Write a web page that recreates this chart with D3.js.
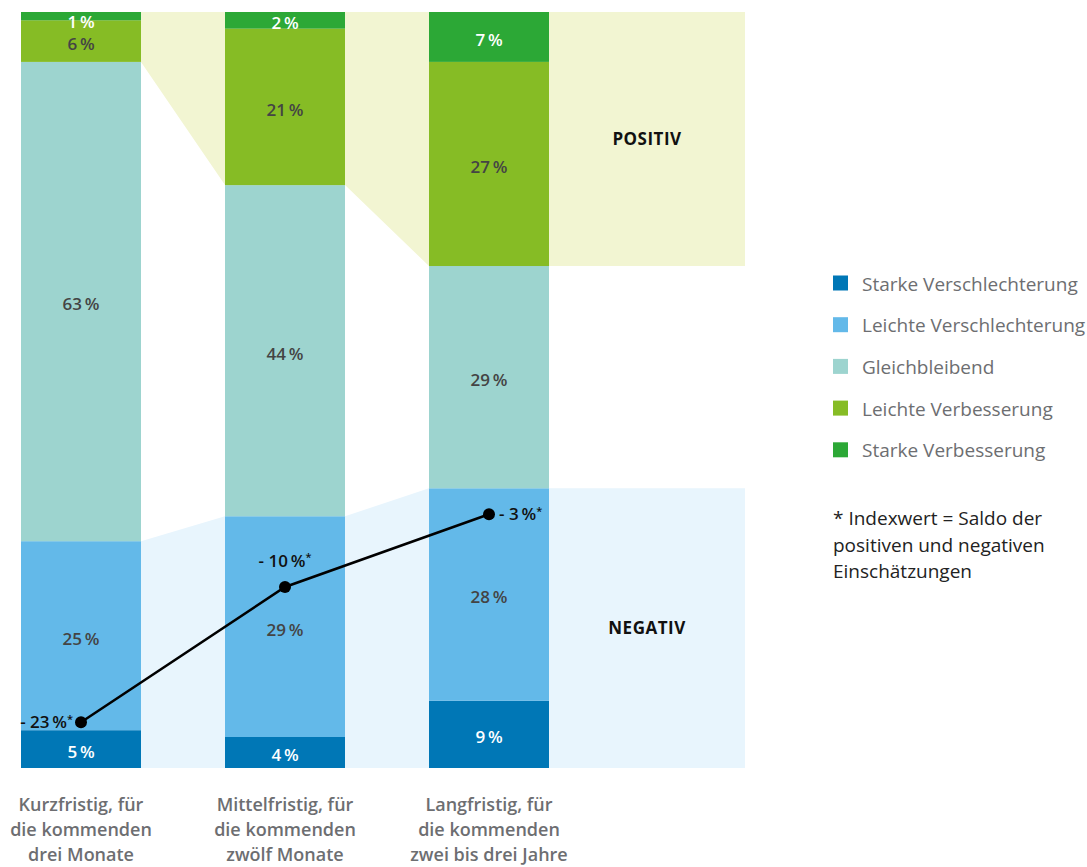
<!DOCTYPE html>
<html><head><meta charset="utf-8">
<script src="https://cdn.jsdelivr.net/npm/d3@7"></script>
<style>body{margin:0;background:#fff}svg{display:block;font-family:"Open Sans",sans-serif}</style>
</head><body><svg id="c" width="1087" height="867"></svg>
<script>
const categories = ["Kurzfristig", "Mittelfristig", "Langfristig"];
const categoryLabels = [
  ["Kurzfristig, für", "die kommenden", "drei Monate"],
  ["Mittelfristig, für", "die kommenden", "zwölf Monate"],
  ["Langfristig, für", "die kommenden", "zwei bis drei Jahre"]
];
const seriesNames = ["Starke Verschlechterung", "Leichte Verschlechterung", "Gleichbleibend", "Leichte Verbesserung", "Starke Verbesserung"];
const starkeVerschlechterung = [5.0, 4.1, 8.9];
const leichteVerschlechterung = [25.0, 29.2, 28.1];
const gleichbleibend = [63.4, 43.8, 29.4];
const leichteVerbesserung = [5.5, 20.7, 27.0];
const starkeVerbesserung = [1.1, 2.2, 6.6];
const indexValues = [-23, -10, -3];
const footnote = ["* Indexwert = Saldo der", "positiven und negativen", "Einschätzungen"];

const colors = ["#0077b6", "#63b9e9", "#9dd4cf", "#86bc25", "#2ca836"];
const labelColors = ["#ffffff", "#444444", "#444444", "#444444", "#ffffff"];
const seriesValues = [starkeVerschlechterung, leichteVerschlechterung, gleichbleibend, leichteVerbesserung, starkeVerbesserung];

const rows = categories.map((c, i) => {
  const r = {cat: c};
  seriesNames.forEach((s, j) => r[s] = seriesValues[j][i]);
  return r;
});
const stack = d3.stack().keys(seriesNames)(rows);

const svg = d3.select("#c");
const plotRight = 745;
const x = d3.scaleBand().domain(categories).range([21, 549]).paddingInner(84 / 204).paddingOuter(0);
const y = d3.scaleLinear().domain([0, 100]).range([768, 12]);
const yIdx = d3.scaleLinear().domain([-30, 0]).range([795, 483]);

// background areas
const negTop = rows.map((r, i) => stack[1][i][1]);
const posBottom = rows.map((r, i) => stack[2][i][1]);
function edgePoints(vals) {
  const pts = [];
  categories.forEach((c, i) => {
    pts.push({x: x(c), v: vals[i]});
    pts.push({x: x(c) + x.bandwidth(), v: vals[i]});
  });
  pts.push({x: plotRight, v: vals[vals.length - 1]});
  return pts;
}
svg.append("path")
  .datum(edgePoints(posBottom))
  .attr("fill", "#f2f5d2")
  .attr("d", d3.area().x(d => d.x).y0(y(100)).y1(d => y(d.v)));
svg.append("path")
  .datum(edgePoints(negTop))
  .attr("fill", "#e8f5fd")
  .attr("d", d3.area().x(d => d.x).y0(y(0)).y1(d => y(d.v)));

// bars
const g = svg.append("g");
stack.forEach((layer, j) => {
  g.selectAll(null).data(layer).enter().append("rect")
    .attr("x", (d, i) => x(categories[i]))
    .attr("width", x.bandwidth())
    .attr("y", d => y(d[1]))
    .attr("height", d => y(d[0]) - y(d[1]))
    .attr("fill", colors[j]);
});
stack.forEach((layer, j) => {
  g.selectAll(null).data(layer).enter().append("text")
    .attr("x", (d, i) => x(categories[i]) + x.bandwidth() / 2)
    .attr("y", d => Math.max((y(d[0]) + y(d[1])) / 2 + 3, y(d[1]) + 10))
    .attr("dy", "0.35em")
    .attr("text-anchor", "middle")
    .attr("font-size", 17)
    .attr("font-weight", 600)
    .attr("fill", labelColors[j])
    .text(d => Math.round(d[1] - d[0]) + "\u2009%");
});

// region labels
svg.append("text").attr("x", (x.range()[1] + plotRight) / 2).attr("y", (y(100) + y(posBottom[2])) / 2)
  .attr("dy", "0.35em").attr("text-anchor", "middle").attr("font-size", 17).attr("font-weight", 700)
  .attr("letter-spacing", 0.5).attr("fill", "#111").text("POSITIV");
svg.append("text").attr("x", (x.range()[1] + plotRight) / 2).attr("y", (y(0) + y(negTop[2])) / 2)
  .attr("dy", "0.35em").attr("text-anchor", "middle").attr("font-size", 17).attr("font-weight", 700)
  .attr("letter-spacing", 0.5).attr("fill", "#111").text("NEGATIV");

// index line
const pts = indexValues.map((v, i) => ({x: x(categories[i]) + x.bandwidth() / 2, y: yIdx(v), v}));
svg.append("path").datum(pts).attr("fill", "none").attr("stroke", "#000").attr("stroke-width", 2.5)
  .attr("d", d3.line().x(d => d.x).y(d => d.y));
svg.selectAll(".dot").data(pts).enter().append("circle")
  .attr("cx", d => d.x).attr("cy", d => d.y).attr("r", 6).attr("fill", "#000");
const placement = ["left", "above", "right"];
pts.forEach((p, i) => {
  const t = svg.append("text").attr("font-size", 17).attr("font-weight", 600).attr("fill", "#111");
  if (placement[i] === "left") t.attr("x", p.x - 8).attr("y", p.y).attr("dy", "0.35em").attr("text-anchor", "end");
  else if (placement[i] === "right") t.attr("x", p.x + 10).attr("y", p.y).attr("dy", "0.35em").attr("text-anchor", "start");
  else t.attr("x", p.x).attr("y", p.y - 26).attr("dy", "0.35em").attr("text-anchor", "middle");
  t.append("tspan").text("- " + Math.abs(p.v) + "\u2009%");
  t.append("tspan").attr("font-size", 11).attr("dy", "-0.5em").text("*");
});

// x labels
categories.forEach((c, i) => {
  const t = svg.append("text").attr("x", x(c) + x.bandwidth() / 2).attr("y", 811)
    .attr("text-anchor", "middle").attr("font-size", 18).attr("font-weight", 600).attr("fill", "#6d6e71");
  categoryLabels[i].forEach((line, k) => {
    t.append("tspan").attr("x", x(c) + x.bandwidth() / 2).attr("dy", k === 0 ? 0 : 25).text(line);
  });
});

// legend
const legend = svg.append("g").attr("transform", "translate(833,283)");
seriesNames.forEach((s, j) => {
  const row = legend.append("g").attr("transform", `translate(0,${j * 41.7})`);
  row.append("rect").attr("x", 0).attr("y", -7.5).attr("width", 15).attr("height", 15).attr("fill", colors[j]);
  row.append("text").attr("x", 29).attr("y", 1).attr("dy", "0.35em").attr("font-size", 19)
    .attr("fill", "#6d6e71").text(s);
});
const fn = svg.append("text").attr("x", 833).attr("y", 525).attr("font-size", 19).attr("fill", "#222");
footnote.forEach((line, k) => fn.append("tspan").attr("x", 833).attr("dy", k === 0 ? 0 : 26.5).text(line));
</script></body></html>
